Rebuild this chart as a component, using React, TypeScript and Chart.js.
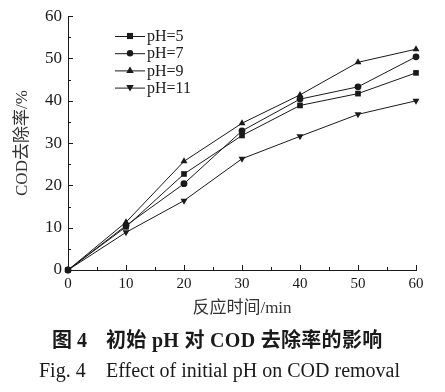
import React, { useEffect, useRef } from "react";
import { Chart, registerables } from "chart.js";

Chart.register(...registerables);

const times = [0, 10, 20, 30, 40, 50, 60];
const seriesLabels = ["pH=5", "pH=7", "pH=9", "pH=11"];
const ph5 = [0, 10.2, 22.7, 31.8, 38.9, 41.7, 46.6];
const ph7 = [0, 10.5, 20.4, 32.9, 40.4, 43.3, 50.4];
const ph9 = [0, 11.3, 25.7, 34.7, 41.4, 49.1, 52.2];
const ph11 = [0, 8.9, 16.4, 26.3, 31.6, 36.8, 40.0];
const pointStyles = ["rect", "circle", "triangle", "triangle"];
const pointRotations = [0, 0, 0, 180];
const xTicks = [0, 10, 20, 30, 40, 50, 60];
const yTicks = [0, 10, 20, 30, 40, 50, 60];
const xTitle = "反应时间/min";
const yTitle = "COD去除率/%";
const captionCnNum = "图 4";
const captionCnText = "初始 pH 对 COD 去除率的影响";
const captionEnNum = "Fig. 4";
const captionEnText = "Effect of initial pH on COD removal";

const INK = "#1a1a1a";
const SERIF = "'Liberation Serif', 'Times New Roman', 'Noto Sans CJK SC', serif";

function drawMarker(ctx: CanvasRenderingContext2D, style: string, rot: number, x: number, y: number, r: number) {
  ctx.save();
  ctx.fillStyle = INK;
  ctx.beginPath();
  if (style === "rect") {
    ctx.rect(x - r * 0.85, y - r * 0.85, r * 1.7, r * 1.7);
  } else if (style === "circle") {
    ctx.arc(x, y, r * 0.9, 0, Math.PI * 2);
  } else {
    const s = rot === 180 ? -1 : 1;
    ctx.moveTo(x, y - s * r * 1.1);
    ctx.lineTo(x + r * 1.05, y + s * r * 0.7);
    ctx.lineTo(x - r * 1.05, y + s * r * 0.7);
    ctx.closePath();
  }
  ctx.fill();
  ctx.restore();
}

const tickPlugin = {
  id: "inwardTicks",
  afterDraw(chart: any) {
    const ctx = chart.ctx as CanvasRenderingContext2D;
    const xs = chart.scales.x;
    const ys = chart.scales.y;
    const area = chart.chartArea;
    ctx.save();
    ctx.strokeStyle = INK;
    ctx.lineWidth = 1;
    for (let v = 0; v <= 60; v += 5) {
      const len = v % 10 === 0 ? 5 : 3;
      const px = Math.round(xs.getPixelForValue(v)) + 0.5;
      ctx.beginPath();
      ctx.moveTo(px, area.bottom);
      ctx.lineTo(px, area.bottom - len);
      ctx.stroke();
      const py = Math.round(ys.getPixelForValue(v)) + 0.5;
      ctx.beginPath();
      ctx.moveTo(area.left, py);
      ctx.lineTo(area.left + len, py);
      ctx.stroke();
    }
    // legend
    const lx0 = 115;
    const lx1 = 145;
    const ly0 = 36;
    const step = 17.2;
    ctx.font = `16px ${SERIF}`;
    ctx.fillStyle = INK;
    ctx.textBaseline = "middle";
    ctx.textAlign = "left";
    seriesLabels.forEach((lab, i) => {
      const y = ly0 + i * step;
      ctx.beginPath();
      ctx.moveTo(lx0, y + 0.5);
      ctx.lineTo(lx1, y + 0.5);
      ctx.stroke();
      drawMarker(ctx, pointStyles[i], pointRotations[i], (lx0 + lx1) / 2, y, 3.6);
      ctx.fillText(lab, lx1 + 2, y + 1);
    });
    ctx.restore();
  },
};

export default function App() {
  const ref = useRef<HTMLCanvasElement | null>(null);
  useEffect(() => {
    document.body.style.margin = "0";
    const values = [ph5, ph7, ph9, ph11];
    const chart = new Chart(ref.current as HTMLCanvasElement, {
      type: "line",
      data: {
        labels: times,
        datasets: seriesLabels.map((lab, i) => ({
          label: lab,
          data: times.map((t, j) => ({ x: t, y: values[i][j] })),
          borderColor: INK,
          backgroundColor: INK,
          borderWidth: 1,
          pointStyle: pointStyles[i] as any,
          rotation: pointRotations[i],
          pointRadius: pointStyles[i] === "circle" ? 3.4 : 4,
          pointBorderWidth: 0,
          tension: 0,
          clip: false as any,
        })),
      },
      options: {
        animation: false,
        responsive: false,
        layout: { padding: { left: 8, right: 29, top: 13, bottom: 73 } },
        plugins: { legend: { display: false }, tooltip: { enabled: false } },
        scales: {
          x: {
            type: "linear",
            min: 0,
            max: 60,
            afterBuildTicks: (s: any) => {
              s.ticks = xTicks.map((v) => ({ value: v }));
            },
            afterFit: (s: any) => {
              s.height = 49;
            },
            grid: { display: false, drawTicks: false },
            border: { display: true, color: INK, width: 1 },
            ticks: { color: INK, font: { family: SERIF, size: 15 }, padding: 5, maxRotation: 0 },
            title: {
              display: true,
              text: xTitle,
              color: "#333",
              font: { family: SERIF, size: 17 },
              padding: { top: 0, bottom: 0 },
            },
          },
          y: {
            type: "linear",
            min: 0,
            max: 60,
            afterBuildTicks: (s: any) => {
              s.ticks = yTicks.map((v) => ({ value: v }));
            },
            afterFit: (s: any) => {
              s.width = 60;
            },
            grid: { display: false, drawTicks: false },
            border: { display: true, color: INK, width: 1 },
            ticks: { color: INK, font: { family: SERIF, size: 17 }, padding: 6 },
            title: {
              display: true,
              text: yTitle,
              color: "#333",
              font: { family: SERIF, size: 17 },
              padding: { top: 4, bottom: 0 },
            },
          },
        },
      },
      plugins: [tickPlugin],
    });
    return () => chart.destroy();
  }, []);
  const cnStyle: React.CSSProperties = {
    position: "absolute",
    top: 328,
    fontFamily: SERIF,
    fontWeight: "bold",
    fontSize: 20,
    lineHeight: "24px",
    color: INK,
    whiteSpace: "pre",
  };
  const enStyle: React.CSSProperties = {
    position: "absolute",
    top: 358,
    fontFamily: SERIF,
    fontSize: 20,
    lineHeight: "24px",
    color: INK,
    whiteSpace: "pre",
  };
  return (
    <div style={{ position: "relative", width: 445, height: 392, background: "#fff", overflow: "hidden" }}>
      <canvas ref={ref} width={445} height={392} style={{ position: "absolute", left: 0, top: 0 }} />
      <div style={{ ...cnStyle, left: 52 }}>{captionCnNum}</div>
      <div style={{ ...cnStyle, left: 106, letterSpacing: 0.3 }}>{captionCnText}</div>
      <div style={{ ...enStyle, left: 39 }}>{captionEnNum}</div>
      <div style={{ ...enStyle, left: 106 }}>{captionEnText}</div>
    </div>
  );
}
